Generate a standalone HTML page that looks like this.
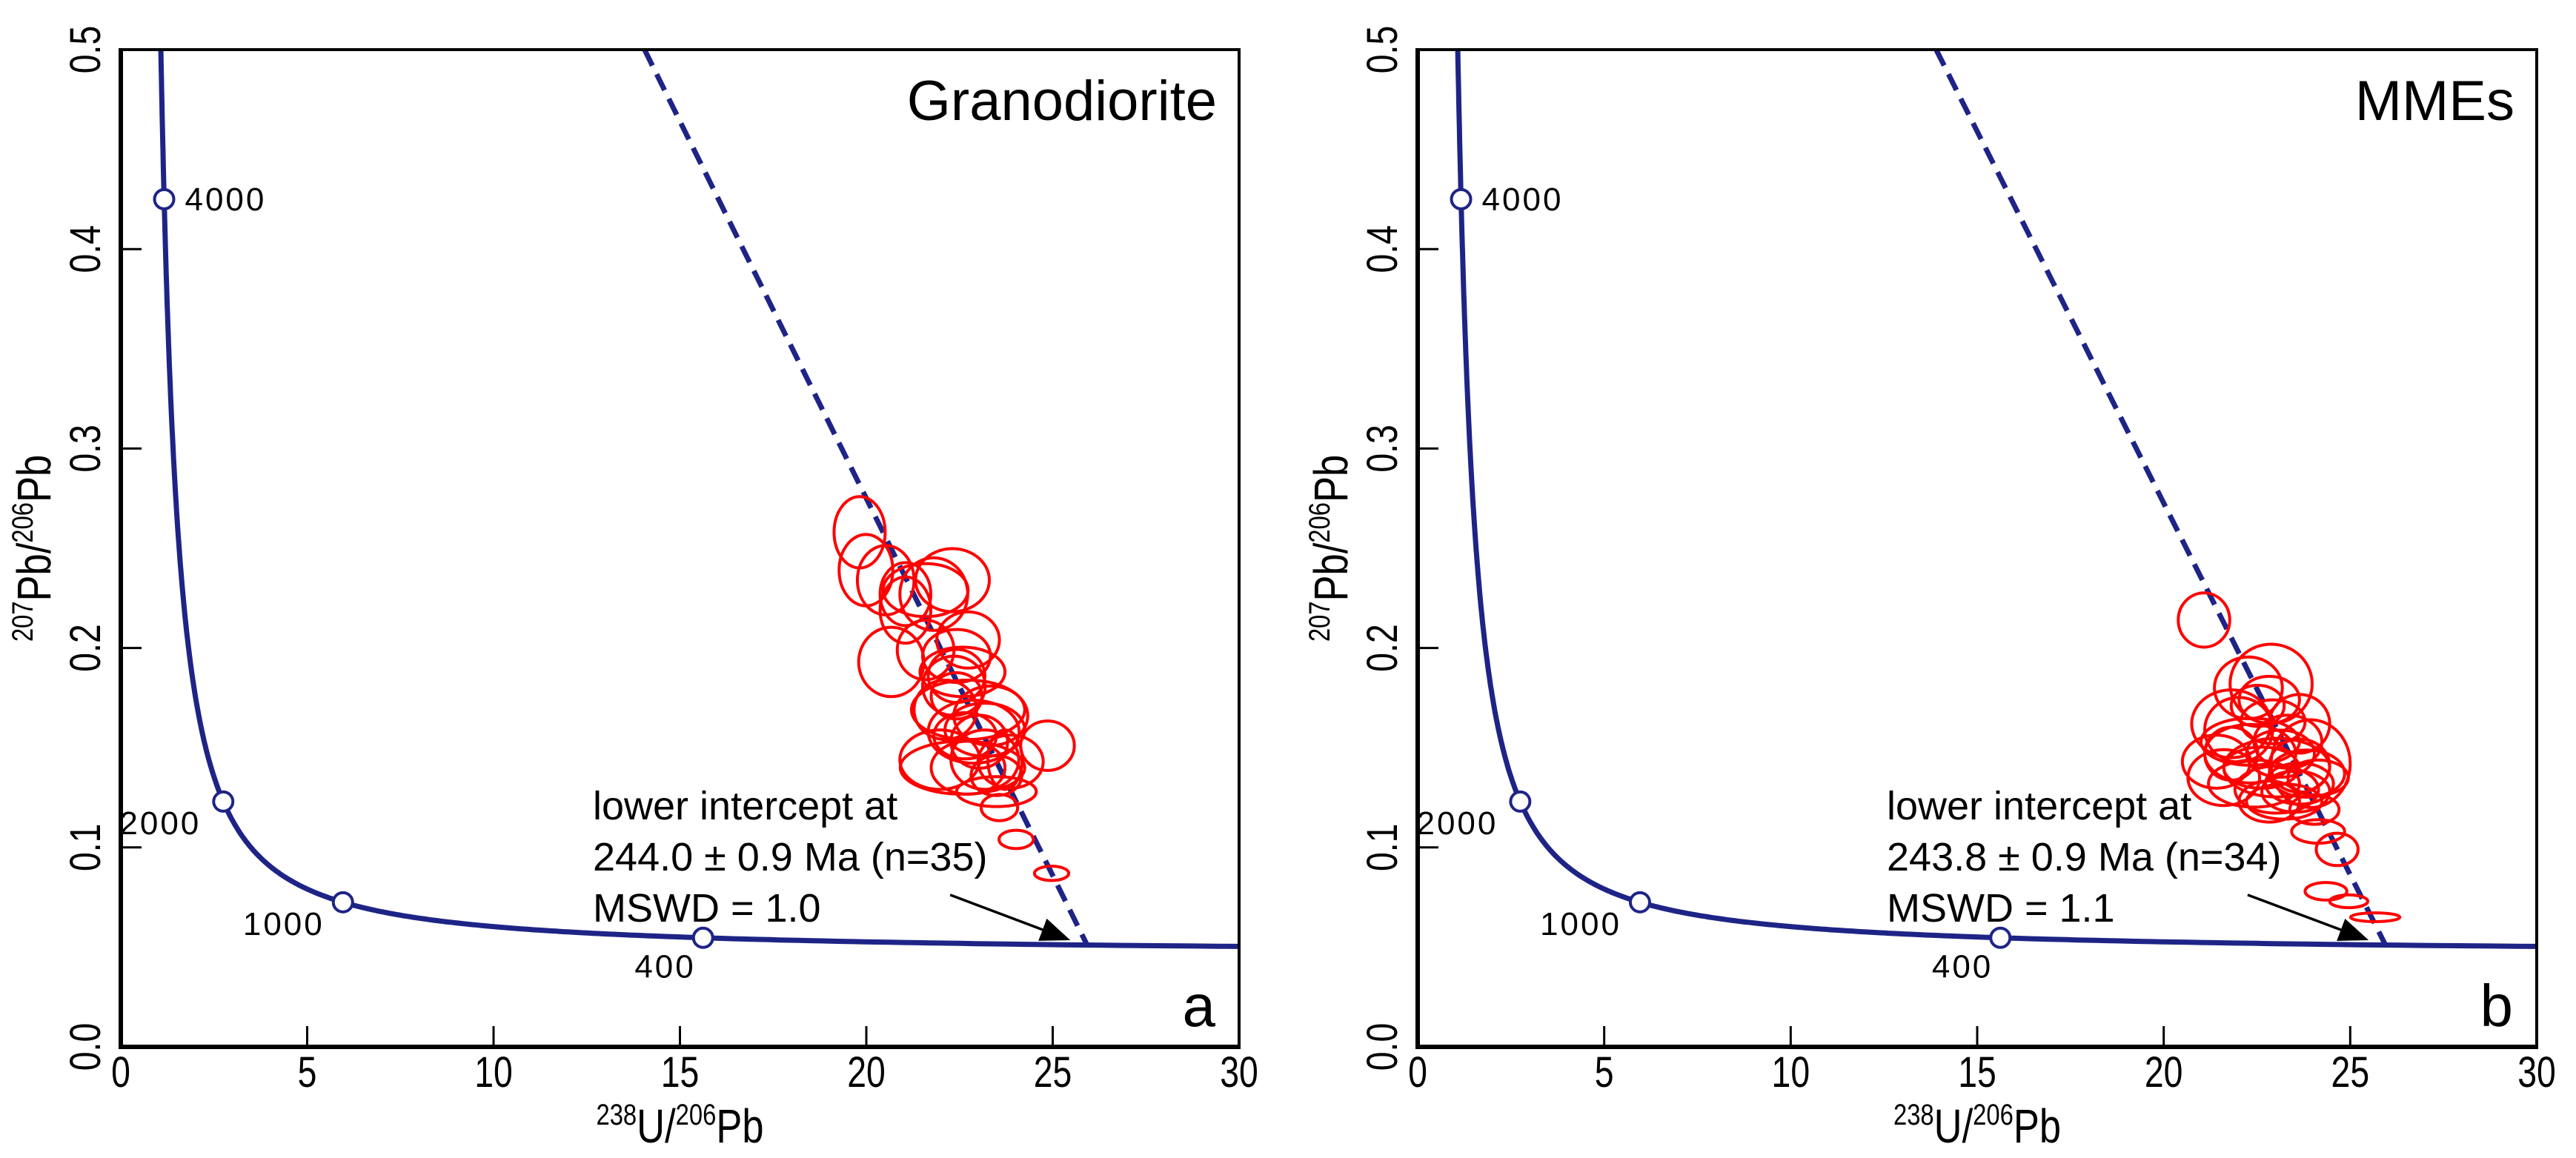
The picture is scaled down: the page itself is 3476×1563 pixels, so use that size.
<!DOCTYPE html>
<html><head><meta charset="utf-8"><style>
html,body{margin:0;padding:0;background:#fff}
svg{display:block}
text{font-family:"Liberation Sans",Arial,sans-serif;fill:#000}
</style></head><body>
<svg id="chart" width="3476" height="1563" viewBox="0 0 3476 1563" xmlns="http://www.w3.org/2000/svg"></svg>
<script>
// ---- data ----
const xTicks = [0,5,10,15,20,25,30];
const yTicks = [0.0,0.1,0.2,0.3,0.4,0.5];
const yTickLabels = ["0.0","0.1","0.2","0.3","0.4","0.5"];
const markerAges = [4000,2000,1000,400];
const panelTitles = ["Granodiorite","MMEs"];
const panelLetters = ["a","b"];
const interceptAges = ["244.0 ± 0.9 Ma (n=35)","243.8 ± 0.9 Ma (n=34)"];
const mswdTexts = ["MSWD = 1.0","MSWD = 1.1"];
const lowerInterceptMa = [244.0, 243.8];
const discordiaTopX = [14.05, 13.9];
// ellipses: x, y, rx, ry (data units)
const ellA_x = [19.82,19.99,20.52,22.31,21.59,21.05,21.05,21.81,22.73,20.67,22.42,22.58,22.35,22.73,22.12,23.34,23.18,24.86,21.97,23.18,23.87,22.73,23.72,23.49,23.57,24.02,24.97,22.65,23.03,22.42,22.88,22.58,23.49,22.42,21.59];
const ellA_y = [0.258,0.239,0.234,0.234,0.229,0.227,0.219,0.227,0.204,0.193,0.186,0.188,0.181,0.169,0.169,0.166,0.159,0.151,0.144,0.144,0.143,0.140,0.144,0.128,0.120,0.104,0.087,0.156,0.153,0.176,0.158,0.140,0.136,0.196,0.199];
const ellA_rx = [0.685,0.72,0.76,0.99,1.14,0.68,0.68,0.91,0.84,0.875,0.76,1.14,0.84,1.52,0.84,0.99,1.07,0.72,1.07,0.91,0.875,0.99,0.46,1.07,0.49,0.46,0.46,0.84,0.76,0.68,1.22,1.67,0.68,0.91,0.76];
const ellA_ry = [0.0179,0.0179,0.0174,0.0158,0.0133,0.0158,0.0166,0.0182,0.0141,0.0174,0.0133,0.0124,0.0149,0.0149,0.0149,0.0149,0.0133,0.0124,0.0149,0.0149,0.0133,0.0133,0.0149,0.0075,0.0066,0.0046,0.0036,0.0116,0.0133,0.0116,0.0158,0.0133,0.0100,0.0133,0.0149];
const ellB_x = [21.08,22.88,22.27,22.52,21.81,22.93,23.94,22.32,21.61,22.32,23.03,23.84,23.03,22.83,23.64,24.04,24.14,24.65,24.35,24.96,25.67,21.41,23.33,22.62,23.64,24.14,21.81,23.13,22.42,23.23,22.01,23.64,22.83,23.54];
const ellB_y = [0.214,0.182,0.180,0.171,0.162,0.163,0.142,0.153,0.135,0.147,0.140,0.137,0.129,0.123,0.132,0.119,0.108,0.099,0.078,0.073,0.065,0.143,0.153,0.140,0.141,0.135,0.147,0.147,0.132,0.123,0.159,0.162,0.174,0.128];
const ellB_rx = [0.69,1.10,0.91,0.71,1.06,0.86,1.06,1.32,0.96,1.22,1.42,1.01,1.12,0.81,0.91,0.66,0.71,0.56,0.56,0.51,0.66,0.91,0.91,1.01,0.81,0.81,0.71,0.91,1.22,1.01,0.91,0.81,0.81,0.91];
const ellB_ry = [0.0136,0.0199,0.0155,0.0103,0.017,0.011,0.022,0.0118,0.014,0.0147,0.0147,0.0118,0.0118,0.0103,0.0103,0.0074,0.0059,0.0081,0.0044,0.0032,0.0022,0.0133,0.0133,0.0103,0.0133,0.0088,0.0133,0.0118,0.0118,0.0088,0.0162,0.0147,0.0118,0.0103];

// ---- layout ----
const NS = "http://www.w3.org/2000/svg";
const svg = document.getElementById("chart");
const panels = [{x0:163,x1:1672},{x0:1913,x1:3423}];
const yTop = 67, yBot = 1413;
const L238 = 1.55125e-10, L235 = 9.8485e-10, U = 137.88;
const blue = "#1e2486";
function tw(tMa){const t=tMa*1e6;const a=Math.exp(L238*t)-1;const b=Math.exp(L235*t)-1;return [1/a, b/a/U];}
function el(tag, attrs, parent){const e=document.createElementNS(NS,tag);for(const k in attrs)e.setAttribute(k,attrs[k]);(parent||svg).appendChild(e);return e;}

panels.forEach((p,pi)=>{
  const sx = v => p.x0 + (v-0)/(30-0)*(p.x1-p.x0);
  const sy = v => yBot - (v-0)/(0.5-0)*(yBot-yTop);
  const g = el("g",{});
  
  

  const cp = el("clipPath",{id:"clip"+pi},g);
  el("rect",{x:p.x0,y:yTop,width:p.x1-p.x0,height:yBot-yTop},cp);

  // concordia
  let d="";
  for(let t=5000;t>=200;t-=(t>1500?20:5)){const [x,y]=tw(t);if(x>31)break;d+=(d?"L":"M")+sx(x).toFixed(1)+","+sy(y).toFixed(1);}
  const conc = el("path",{d:d,fill:"none",stroke:blue,"stroke-width":7,"clip-path":"url(#clip"+pi+")"},g);
  
  

  // discordia
  const li = tw(lowerInterceptMa[pi]);
  const disc = el("line",{x1:sx(discordiaTopX[pi]),y1:sy(0.5),x2:sx(li[0]),y2:sy(li[1]),stroke:blue,"stroke-width":7,"stroke-dasharray":"24,13"},g);
  
  

  // ellipses
  const EX = pi===0?ellA_x:ellB_x, EY=pi===0?ellA_y:ellB_y, ERX=pi===0?ellA_rx:ellB_rx, ERY=pi===0?ellA_ry:ellB_ry;
  EX.forEach((x,i)=>{
    const e = el("ellipse",{cx:sx(x),cy:sy(EY[i]),rx:ERX[i]*(p.x1-p.x0)/30,ry:ERY[i]*(yBot-yTop)/0.5,fill:"none",stroke:"#ff0000","stroke-width":4},g);
    
    
  });

  // age markers
  const lblOff = {4000:[28,15,"start"],2000:[-30,44,"end"],1000:[-25,44,"end"],400:[-10,54,"end"]};
  markerAges.forEach(a=>{
    const [x,y]=tw(a);
    const c = el("circle",{cx:sx(x),cy:sy(y),r:13,fill:"#fff",stroke:blue,"stroke-width":4},g);
    
    
    const o = lblOff[a];
    const t = el("text",{x:sx(x)+o[0],y:sy(y)+o[1],"font-size":44,"letter-spacing":3,"text-anchor":o[2]},g);
    t.textContent = a;
    
    
  });

  // frame
  el("rect",{x:p.x0,y:yTop,width:p.x1-p.x0,height:yBot-yTop,fill:"none",stroke:"#000","stroke-width":4},g);
  el("line",{x1:p.x0,y1:yTop-2,x2:p.x0,y2:yBot+3,stroke:"#000","stroke-width":6},g);
  el("line",{x1:p.x0-2,y1:yBot,x2:p.x1+2,y2:yBot,stroke:"#000","stroke-width":6},g);

  // x ticks
  xTicks.forEach(v=>{
    if(v>0&&v<30) el("line",{x1:sx(v),y1:yBot,x2:sx(v),y2:yBot-28,stroke:"#000","stroke-width":3},g);
    const t = el("text",{x:0,y:0,"font-size":58,"text-anchor":"middle",transform:`translate(${sx(v)} 1467) scale(0.8 1)`},g);
    t.textContent = v;
    
    
  });
  // y ticks
  yTicks.forEach((v,i)=>{
    if(v>0&&v<0.5) el("line",{x1:p.x0,y1:sy(v),x2:p.x0+28,y2:sy(v),stroke:"#000","stroke-width":3},g);
    const tx = p.x0-28, ty = sy(v);
    const t = el("text",{x:0,y:0,"font-size":58,"text-anchor":"middle",transform:`translate(${tx} ${ty}) rotate(-90) scale(0.8 1)`},g);
    t.textContent = yTickLabels[i];
    
    
  });

  // axis titles
  const xt = el("text",{x:0,y:0,"font-size":64,"text-anchor":"middle",transform:`translate(${(p.x0+p.x1)/2} 1542) scale(0.82 1)`},g);
  xt.innerHTML = '<tspan font-size="40" dy="-24">238</tspan><tspan dy="24">U/</tspan><tspan font-size="40" dy="-24">206</tspan><tspan dy="24">Pb</tspan>';
  
  
  const yx = p.x0-95, yy = 740;
  const yt = el("text",{x:0,y:0,"font-size":64,"text-anchor":"middle",transform:`translate(${yx} ${yy}) rotate(-90) scale(0.82 1)`},g);
  yt.innerHTML = '<tspan font-size="40" dy="-24">207</tspan><tspan dy="24">Pb/</tspan><tspan font-size="40" dy="-24">206</tspan><tspan dy="24">Pb</tspan>';
  
  

  // title & letter
  const ti = el("text",{x:p.x1-30,y:162,"font-size":76,"text-anchor":"end"},g);
  ti.textContent = panelTitles[pi];
  
  
  const lt = el("text",{x:p.x1-32,y:1385,"font-size":80,"text-anchor":"end"},g);
  lt.textContent = panelLetters[pi];
  
  

  // annotation
  const ax = pi===0?800:2546;
  const lines=["lower intercept at",interceptAges[pi],mswdTexts[pi]];
  const ys=[1106,1175,1244];
  lines.forEach((s,i)=>{
    const t = el("text",{x:ax,y:ys[i],"font-size":54},g);
    t.textContent = s;
    
    
  });
  // arrow
  const tail=[22.25,0.0762], tip=[li[0]-0.45,0.0535];
  const x1=sx(tail[0]),y1=sy(tail[1]),x2=sx(tip[0]),y2=sy(tip[1]);
  const ang=Math.atan2(y2-y1,x2-x1), L=40, W=16;
  const bx=x2-L*Math.cos(ang), by=y2-L*Math.sin(ang);
  el("line",{x1:x1,y1:y1,x2:bx,y2:by,stroke:"#000","stroke-width":3.5},g);
  const ah = el("polygon",{points:`${x2},${y2} ${bx+W*Math.sin(ang)},${by-W*Math.cos(ang)} ${bx-W*Math.sin(ang)},${by+W*Math.cos(ang)}`,fill:"#000"},g);
  
  
});
</script>
</body></html>
